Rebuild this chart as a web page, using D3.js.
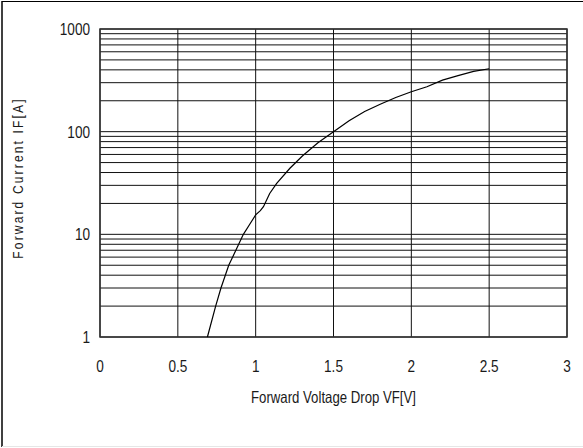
<!DOCTYPE html>
<html>
<head>
<meta charset="utf-8">
<script src="https://cdn.jsdelivr.net/npm/d3@7"></script>
<style>
  body { margin: 0; background: #fff; }
  text { font-family: "Liberation Sans", Arial, sans-serif; fill: #1a1a1a; }
</style>
</head>
<body>
<svg id="chart"></svg>
<script>
const width = 583;
const height = 448;
const margin = { left: 100, right: 16, top: 29, bottom: 111 };
const narrow = 0.8; // squeeze Liberation Sans to look like a narrow face

// forward voltage [V] vs forward current [A]
const voltage = [0.69, 0.743, 0.777, 0.827, 0.875, 0.921, 0.96, 1.0, 1.03, 1.05, 1.09, 1.135, 1.22, 1.3, 1.4, 1.5, 1.6, 1.7, 1.8, 1.9, 2.0, 2.1, 2.2, 2.3, 2.4, 2.5];
const current = [1, 2, 3, 5, 7.1, 10, 12.4, 15.5, 17, 18.6, 25, 31.4, 44, 58, 78, 100, 128, 157, 185, 215, 245, 274, 318, 352, 386, 410];

const xTicks = [0, 0.5, 1, 1.5, 2, 2.5, 3];
const yTicks = [1, 10, 100, 1000];

const svg = d3.select("#chart").attr("width", width).attr("height", height);

// outer frame
svg.append("line").attr("x1", 2).attr("x2", 583).attr("y1", 1.5).attr("y2", 1.5).attr("stroke", "#000");
svg.append("line").attr("x1", 2).attr("x2", 2).attr("y1", 1).attr("y2", 447).attr("stroke", "#000").attr("stroke-width", 1.5);
svg.append("line").attr("x1", 2).attr("x2", 583).attr("y1", 446.5).attr("y2", 446.5).attr("stroke", "#e6e6e6");

const x = d3.scaleLinear().domain([0, 3]).range([margin.left, width - margin.right]);
const y = d3.scaleLog().domain([1, 1000]).range([height - margin.bottom, margin.top]);

// horizontal grid: every minor step of each decade
const minor = [];
for (let d = 1; d < 1000; d *= 10) {
    for (let k = 1; k < 10; k++) minor.push(d * k);
}
minor.push(1000);

const grid = svg.append("g");
grid.selectAll(".hgrid")
    .data(minor)
    .join("line")
    .attr("class", "hgrid")
    .attr("x1", x(0)).attr("x2", x(3))
    .attr("y1", d => y(d)).attr("y2", d => y(d))
    .attr("stroke", "#111").attr("stroke-width", 1);

grid.selectAll(".vgrid")
    .data(xTicks)
    .join("line")
    .attr("class", "vgrid")
    .attr("x1", d => x(d)).attr("x2", d => x(d))
    .attr("y1", y(1)).attr("y2", y(1000))
    .attr("stroke", "#111").attr("stroke-width", 1);

// plot frame
svg.append("rect")
    .attr("x", x(0)).attr("y", y(1000))
    .attr("width", x(3) - x(0)).attr("height", y(1) - y(1000))
    .attr("fill", "none").attr("stroke", "#333").attr("stroke-width", 1.5);

// tick labels
svg.selectAll(".xt")
    .data(xTicks)
    .join("text")
    .attr("class", "xt")
    .attr("transform", d => `translate(${x(d)},372) scale(${narrow},1)`)
    .attr("text-anchor", "middle")
    .style("font-size", "17px")
    .text(d => d);

svg.selectAll(".yt")
    .data(yTicks)
    .join("text")
    .attr("class", "yt")
    .attr("transform", d => `translate(90,${y(d) + 6}) scale(${narrow},1)`)
    .attr("text-anchor", "end")
    .style("font-size", "17px")
    .text(d => d);

// axis titles
svg.append("text")
    .attr("transform", `translate(${(x(0) + x(3)) / 2},403) scale(${narrow},1)`)
    .attr("text-anchor", "middle")
    .style("font-size", "16.5px")
    .text("Forward Voltage Drop VF[V]");

svg.append("text")
    .attr("transform", `translate(23,${(y(1) + y(1000)) / 2 - 5}) rotate(-90) scale(${narrow},1)`)
    .attr("text-anchor", "middle")
    .style("font-size", "15px")
    .style("letter-spacing", "2.7px")
    .text("Forward Current IF[A]");

// the curve
const pts = voltage.map((v, i) => [v, current[i]]);
const line = d3.line()
    .x(d => x(d[0]))
    .y(d => y(d[1]));

svg.append("path")
    .datum(pts)
    .attr("d", line)
    .attr("fill", "none")
    .attr("stroke", "#000")
    .attr("stroke-width", 1.2);
</script>
</body>
</html>
